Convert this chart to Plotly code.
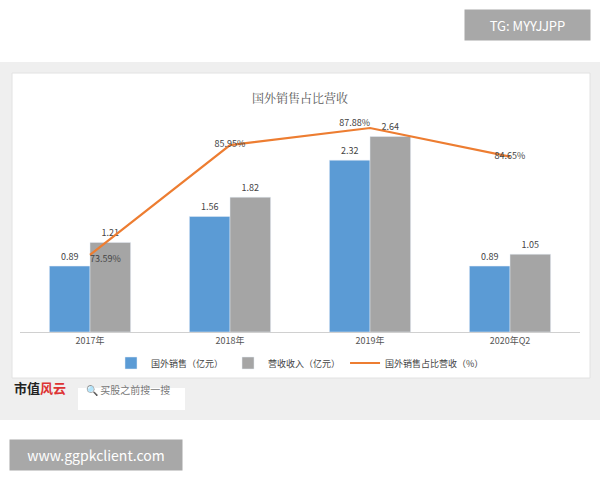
import plotly.graph_objects as go

categories = ["2017年", "2018年", "2019年", "2020年Q2"]
overseas = [0.89, 1.56, 2.32, 0.89]
revenue = [1.21, 1.82, 2.64, 1.05]
share = [73.59, 85.95, 87.88, 84.65]
share_labels = ["73.59%", "85.95%", "87.88%", "84.65%"]

F = "Noto Sans CJK SC"
fig = go.Figure()
fig.add_bar(x=categories, y=overseas, name="国外销售（亿元）", marker_color="#5b9bd5",
            text=[f"{v:.2f}" for v in overseas], textposition="outside",
            textfont=dict(size=9, color="#444"), cliponaxis=False)
fig.add_bar(x=categories, y=revenue, name="营收收入（亿元）", marker_color="#a5a5a5",
            text=[f"{v:.2f}" for v in revenue], textposition="outside",
            textfont=dict(size=9, color="#444"), cliponaxis=False)
fig.add_scatter(x=categories, y=share, name="国外销售占比营收（%）", yaxis="y2",
                mode="lines+text", line=dict(color="#ed7d31", width=2.2),
                text=share_labels, textposition=["bottom right", "middle center", "top left", "middle center"],
                textfont=dict(size=9, color="#444"), cliponaxis=False)

fig.update_layout(
    width=600, height=480, margin=dict(l=0, r=0, t=0, b=0),
    paper_bgcolor="white", plot_bgcolor="rgba(0,0,0,0)",
    font=dict(family=F, color="#555"),
    barmode="group", bargap=0.42, bargroupgap=0,
    showlegend=True,
    legend=dict(orientation="h", x=0.5, xanchor="center", y=(480-363)/480, yanchor="middle",
                font=dict(size=9, color="#444"), bgcolor="rgba(0,0,0,0)"),
    xaxis=dict(domain=[20/600, 580/600], showline=True, linecolor="#d0d0d0",
               tickfont=dict(size=9, color="#555"), ticks=""),
    yaxis=dict(domain=[(480-332)/480, (480-95)/480], range=[0, 3.2], visible=False),
    yaxis2=dict(overlaying="y", range=[64.9, 91.6], visible=False),
    shapes=[
        dict(type="rect", xref="paper", yref="paper", x0=0, x1=1, y0=(480-420)/480, y1=(480-62)/480,
             fillcolor="#efefef", line=dict(width=0), layer="below"),
        dict(type="rect", xref="paper", yref="paper", x0=12/600, x1=590/600, y0=(480-378)/480, y1=(480-73)/480,
             fillcolor="white", line=dict(color="#e2e2e2", width=1), layer="below"),
        dict(type="rect", xref="paper", yref="paper", x0=78/600, x1=185/600, y0=(480-410)/480, y1=(480-388)/480,
             fillcolor="white", line=dict(width=0), layer="below"),
    ],
    annotations=[
        dict(text="国外销售占比营收", x=0.5, y=(480-87)/480, xref="paper", yref="paper",
             showarrow=False, font=dict(size=12, color="#595959", family="Noto Serif CJK SC, " + F)),
        dict(text="TG: MYYJJPP", x=527/600, y=(480-25)/480, xref="paper", yref="paper",
             xanchor="center", yanchor="middle", showarrow=False, bgcolor="#a8a8a8",
             width=117, height=22, borderpad=4,
             font=dict(size=13, color="white", family=F)),
        dict(text="www.ggpkclient.com", x=96/600, y=(480-455)/480, xref="paper", yref="paper",
             xanchor="center", yanchor="middle", showarrow=False, bgcolor="#a8a8a8",
             width=164, height=22, borderpad=4,
             font=dict(size=14, color="white", family=F)),
        dict(text="<b>市值</b><span style='color:#d33'><b>风云</b></span>", x=12/600, y=(480-399)/480,
             xref="paper", yref="paper", xanchor="left", showarrow=False,
             font=dict(size=13, color="#222")),
        dict(text="🔍 买股之前搜一搜", x=84/600, y=(480-399)/480, xref="paper", yref="paper",
             xanchor="left", showarrow=False, font=dict(size=10, color="#777")),
    ],
)
fig.write_html("out.html", config={"displayModeBar": False},
               post_script="document.body.style.margin='0';document.body.style.overflow='hidden';")
